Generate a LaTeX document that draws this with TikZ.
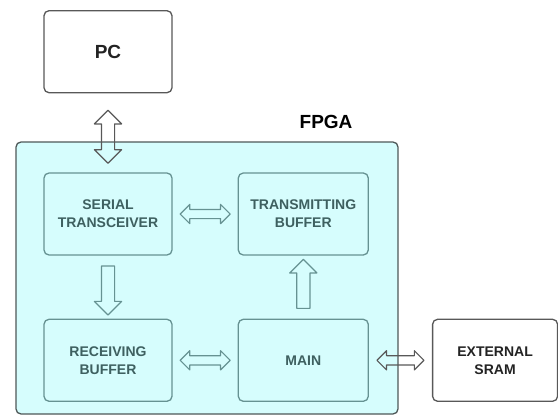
\documentclass[tikz,border=0pt]{standalone}
\usepackage{fontspec}
\setmainfont{Liberation Sans}
\usetikzlibrary{positioning, shapes.arrows}

\definecolor{fpgafill}{RGB}{214,253,253}
\definecolor{fpgaedge}{RGB}{78,88,88}
\definecolor{inedge}{RGB}{102,146,146}
\definecolor{intext}{RGB}{62,96,96}
\definecolor{outedge}{RGB}{88,88,88}
\definecolor{outtext}{RGB}{35,35,35}

\begin{document}
\begin{tikzpicture}[
  x=1pt, y=1pt,
  blk/.style={draw=inedge, line width=1.3pt, rounded corners=5pt, minimum width=128pt, minimum height=82pt,
    align=center, text=intext, font=\fontsize{14}{18}\selectfont\bfseries},
  extblk/.style={blk, draw=outedge, fill=white, text=outtext},
  harr/.style={double arrow, draw=inedge, line width=1.2pt, line join=round, inner xsep=0pt, inner ysep=4pt,
    minimum width=0pt, minimum height=50pt, double arrow head extend=5pt, sloped},
  varr/.style={single arrow, draw=inedge, line width=1.2pt, line join=round, inner xsep=0pt, inner ysep=6pt,
    minimum width=0pt, minimum height=49pt, single arrow head extend=7pt, sloped},
  node distance=63pt and 65pt
]
  \useasboundingbox (0,0) rectangle (558,-415);

  % FPGA enclosure
  \node[draw=fpgaedge, fill=fpgafill, line width=1.3pt, rounded corners=5pt,
    minimum width=382pt, minimum height=272pt] (fpga) at (207,-278) {};
  \node[font=\fontsize{19}{22}\selectfont\bfseries, inner sep=0pt, anchor=south east]
    (fpgalbl) at ([xshift=-46pt, yshift=12pt]fpga.north east) {FPGA};

  % blocks inside the FPGA
  \node[blk] (serial) at (108,-214) {SERIAL\\TRANSCEIVER};
  \node[blk, minimum width=130pt, right=of serial] (txbuf) {TRANSMITTING\\BUFFER};
  \node[blk, below=of serial] (rxbuf) {RECEIVING\\BUFFER};
  \node[blk, minimum width=130pt, below=of txbuf] (main) {MAIN};

  % outside blocks
  \node[extblk, font=\fontsize{19}{22}\selectfont\bfseries, above=79pt of serial] (pc) {PC};
  \node[extblk, minimum width=125pt, right=63pt of main] (sram) {EXTERNAL\\SRAM};

  % data paths
  \path (serial) -- node[harr] {} (txbuf);
  \path (rxbuf) -- node[harr] {} (main);
  \path (serial) -- node[varr] {} (rxbuf);
  \path (main) -- node[varr] {} (txbuf);
  \path (main.east) -- node[harr, draw=outedge, minimum height=47pt] {} (sram.west);
  \path (pc.south) -- node[harr, pos=0.55, draw=outedge, inner ysep=6pt, double arrow head extend=7pt,
    minimum height=53pt] {} (serial.north);
\end{tikzpicture}
\end{document}
